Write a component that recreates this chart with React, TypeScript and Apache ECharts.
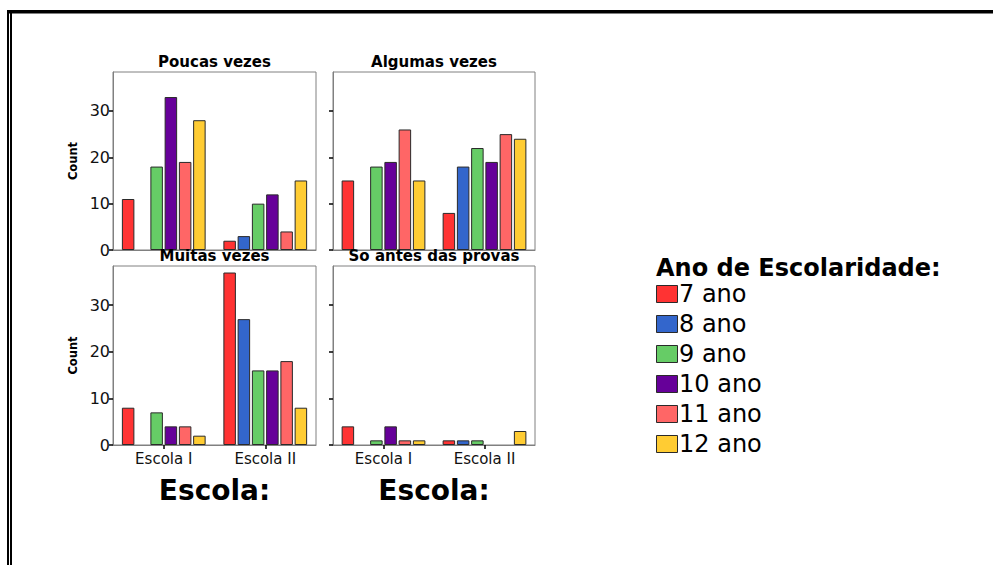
import React, { useEffect, useRef } from "react";
import * as echarts from "echarts";

const CATEGORIES = ["Escola I", "Escola II"];
const GRADES = ["7 ano", "8 ano", "9 ano", "10 ano", "11 ano", "12 ano"];
const COLORS = ["#FF3333", "#3366CC", "#66CC66", "#660099", "#FF6666", "#FFCC33"];
const PANEL_TITLES = ["Poucas vezes", "Algumas vezes", "Muitas vezes", "So antes das provas"];
const Y_TICKS = [0, 10, 20, 30];
const X_TITLE = "Escola:";
const Y_TITLE = "Count";
const LEGEND_TITLE = "Ano de Escolaridade:";

// values per grade: [Escola I, Escola II]
const poucasVezes: (number | null)[][] = [[11, 2], [null, 3], [18, 10], [33, 12], [19, 4], [28, 15]];
const algumasVezes: (number | null)[][] = [[15, 8], [null, 18], [18, 22], [19, 19], [26, 25], [15, 24]];
const muitasVezes: (number | null)[][] = [[8, 37], [null, 27], [7, 16], [4, 16], [4, 18], [2, 8]];
const antesProvas: (number | null)[][] = [[4, 1], [null, 1], [1, 1], [4, null], [1, null], [1, 3]];

const PANELS = [poucasVezes, algumasVezes, muitasVezes, antesProvas];

const FONT = "DejaVu Sans";

export default function App() {
  const ref = useRef<HTMLDivElement>(null);
  useEffect(() => {
    if (!ref.current) return;
    const chart = echarts.init(ref.current, null, { renderer: "svg" });

    const grids = [
      { left: 113, top: 72, width: 203, height: 178 },
      { left: 333, top: 72, width: 202, height: 178 },
      { left: 113, top: 266, width: 203, height: 179 },
      { left: 333, top: 266, width: 202, height: 179 },
    ];

    const xAxes = grids.map((_, i) => {
      const bottom = i >= 2;
      return {
        type: "category",
        gridIndex: i,
        data: CATEGORIES,
        axisLine: { show: true, lineStyle: { color: "#808080", width: 1 } },
        axisTick: { show: bottom, alignWithLabel: true, length: 4, lineStyle: { color: "#000", width: 1.5 } },
        axisLabel: { show: bottom, fontFamily: FONT, fontSize: 15, color: "#111", margin: 6 },
        splitLine: { show: false },
      };
    });

    const yAxes = grids.map((_, i) => {
      const left = i % 2 === 0;
      return {
        type: "value",
        gridIndex: i,
        min: 0,
        max: 38.4,
        interval: 10,
        axisLine: { show: true, lineStyle: { color: "#808080", width: 1 } },
        axisTick: { show: true, length: 4, customValues: Y_TICKS, lineStyle: { color: "#000", width: 1.5 } },
        axisLabel: { show: left, customValues: Y_TICKS, fontFamily: FONT, fontSize: 16, color: "#111", margin: 3 },
        splitLine: { show: false },
      };
    });

    const series: any[] = [];
    PANELS.forEach((panel, pi) => {
      GRADES.forEach((g, gi) => {
        series.push({
          type: "bar",
          name: g,
          xAxisIndex: pi,
          yAxisIndex: pi,
          data: panel[gi],
          barWidth: 12.5,
          barGap: "14%",
          itemStyle: { color: COLORS[gi], borderColor: "#2a2a2a", borderWidth: 1 },
        });
      });
    });

    const graphics: any[] = [];
    // frame
    graphics.push({ type: "rect", shape: { x: 7, y: 10, width: 986, height: 3.5 }, style: { fill: "#000" } });
    graphics.push({ type: "rect", shape: { x: 7, y: 10, width: 2, height: 555 }, style: { fill: "#000" } });
    graphics.push({ type: "rect", shape: { x: 10, y: 12, width: 2, height: 553 }, style: { fill: "#000" } });

    // panel titles
    grids.forEach((g, i) => {
      graphics.push({
        type: "text",
        x: g.left + g.width / 2,
        y: g.top - 10,
        z: 10,
        style: {
          text: PANEL_TITLES[i],
          fontFamily: FONT,
          fontWeight: "bold",
          fontSize: 15,
          fill: "#000",
          align: "center",
          verticalAlign: "middle",
        },
      });
    });

    // Count labels
    [grids[0], grids[2]].forEach((g) => {
      graphics.push({
        type: "text",
        x: 73,
        y: g.top + g.height / 2,
        rotation: Math.PI / 2,
        style: {
          text: Y_TITLE,
          fontFamily: FONT,
          fontWeight: "bold",
          fontSize: 11.5,
          fill: "#000",
          align: "center",
          verticalAlign: "middle",
        },
      });
    });

    // Escola: titles
    [grids[2], grids[3]].forEach((g) => {
      graphics.push({
        type: "text",
        x: g.left + g.width / 2,
        y: 490,
        style: {
          text: X_TITLE,
          fontFamily: FONT,
          fontWeight: "bold",
          fontSize: 28,
          fill: "#000",
          align: "center",
          verticalAlign: "middle",
        },
      });
    });

    // legend
    graphics.push({
      type: "text",
      x: 656,
      y: 268,
      style: {
        text: LEGEND_TITLE,
        fontFamily: FONT,
        fontWeight: "bold",
        fontSize: 24,
        fill: "#000",
        align: "left",
        verticalAlign: "middle",
      },
    });
    GRADES.forEach((g, i) => {
      const y0 = 285 + i * 30;
      graphics.push({
        type: "rect",
        shape: { x: 656.5, y: y0 + 0.5, width: 21, height: 17 },
        style: { fill: COLORS[i], stroke: "#2a2a2a", lineWidth: 1 },
      });
      graphics.push({
        type: "text",
        x: 679,
        y: y0 + 9,
        style: {
          text: g,
          fontFamily: FONT,
          fontSize: 24,
          fill: "#000",
          align: "left",
          verticalAlign: "middle",
        },
      });
    });

    chart.setOption({
      animation: false,
      backgroundColor: "#fff",
      textStyle: { fontFamily: FONT },
      grid: grids.map((g) => ({ ...g, show: true, borderColor: "#808080", borderWidth: 1, backgroundColor: "transparent" })),
      xAxis: xAxes,
      yAxis: yAxes,
      series,
      graphic: graphics,
    });
    return () => chart.dispose();
  }, []);

  return (
    <div
      ref={ref}
      style={{ position: "fixed", left: 0, top: 0, width: 993, height: 565, background: "#fff" }}
    />
  );
}
